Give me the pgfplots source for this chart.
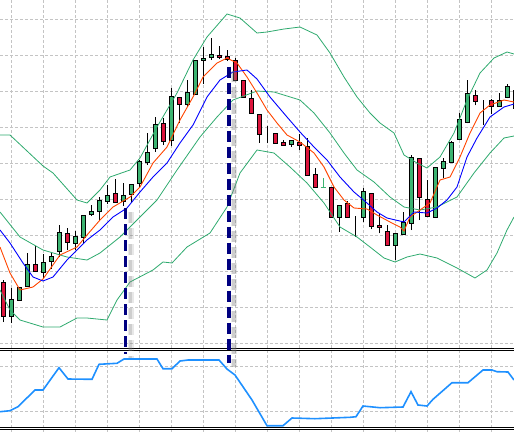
\documentclass[border=0pt]{standalone}
\usepackage{pgfplots}
\pgfplotsset{compat=1.18}
\usepackage{pgfplotstable}
\definecolor{cgreen}{RGB}{60,179,113}
\definecolor{cred}{RGB}{220,20,60}
\definecolor{corange}{RGB}{255,69,0}
\definecolor{cblue}{RGB}{0,0,255}
\definecolor{cind}{RGB}{30,144,255}
\definecolor{cnavy}{RGB}{0,0,128}
\definecolor{cgrid}{RGB}{196,196,196}
\definecolor{cband}{RGB}{46,170,110}

% candles in screen units: x, open, high, low, close
\pgfplotstableread{
x o h l c
3 282 280 322 316
11 316.7 288 323 299.3
19 300 287 300 287.3
27 286 253 286 264
35 264.3 246 272 271.7
43 272.3 254 278 262.3
51 261 253 269 256
59 251 225 257 232.3
67 233.3 228 250 242.3
75 243.3 231 250 236.3
83 237.3 215 244 215.3
91 214.3 205 216 211
99 211.7 197 221 200.3
107 201.7 185 204 195.3
115 193.3 179 202.3 202.3
123 201.3 183 206 195.3
131 194.3 184 203 184.3
139 183.3 160 187 161.3
147 162.3 133 165 152.7
155 148.3 117 151.7 124
163 123.3 118 145 141.7
171 140 88 145.7 96.7
179 97.3 97 123 104.3
187 104.3 80 107 92.3
195 94.3 60 94.3 60.3
203 60.3 47 84 58.3
211 57.3 38 60 54.3
219 55.3 46 59 57.3
227 56 50 61 59
235 60 58 80.7 80.7
243 80 80 97.3 97.3
251 98.7 90 113.3 113.3
259 114.3 114 142.7 134.3
267 133.3 126 143.3 133.3
275 133.3 133 143.3 143.3
283 142.3 140 145.7 145.7
291 144.3 140 146.7 140.3
299 142.3 134 150 145.7
307 146.5 138.3 175 175
315 174.3 168.3 188 187.7
323 187.5 178 187.5 187.5
331 187.3 187.3 217.3 217.3
339 217.3 205.7 231.7 205.7
347 203.3 201 217.3 217.3
355 216.7 216 236.7 216.7
363 217.3 188.3 221.7 191.7
371 193.3 193.3 229.3 226.7
379 225.3 213.3 233.3 227.3
387 231 225 245.3 245.3
395 245.3 233.7 260 233.7
403 234.3 211.7 234.3 222.7
411 223.3 155 230 157
419 158.3 158 220 197.5
427 199.3 180 216 216
435 217.3 167 218 167.3
443 168.3 158.3 178.3 161.7
451 162.7 140.7 163 142.7
459 139.3 113.3 140 119.3
467 122 80 123.3 93.3
475 95.3 90 105.3 101.3
483 100.7 100 125 100.7
491 100.7 99 114 106
499 106 92.7 106 100.7
507 97.3 84 98 86.7
515 90 87.7 123.3 108
}\candles

\pgfplotstableread{
x y
0 135
10 135
43 166
53 173
77 200
87 203
100 190
110 177
130 170
140 158
157 127
177 93
193 60
207 37
227 14
240 18
257 33
267 32
284 29
300 27
317 35
330 53
344 77
357 97
370 113
380 123
394 133
404 155
417 163
427 168
440 157
454 133
467 100
480 73
494 58
507 52
514 54
}\bandup

\pgfplotstableread{
x y
0 212
20 237
43 250
67 257
87 260
100 253
120 237
140 217
157 200
177 170
200 137
217 117
233 100
257 91
274 92
300 100
314 113
330 133
344 153
357 170
374 182
390 197
404 207
420 210
437 207
457 197
474 173
490 153
504 138
514 136
}\bandmid

\pgfplotstableread{
x y
0 290
10 310
20 320
43 327
60 327
77 318
87 318
107 320
117 300
130 282
153 270
163 262
172 263
187 247
210 233
227 207
240 173
257 150
274 153
290 167
307 183
324 203
340 227
357 237
370 247
384 258
395 262
407 257
420 254
437 258
457 268
475 278
487 270
497 253
507 230
514 217
}\bandlow

\pgfplotstableread{
x y
0 247
10 273
20 290
33 287
43 279
60 255
77 247
87 235
100 220
113 207
130 197
140 187
153 163
167 147
180 120
193 97
203 77
217 63
227 58
237 63
247 77
257 93
267 110
277 123
287 135
300 142
314 153
324 167
334 187
344 200
354 208
367 209
377 215
390 222
400 227
404 231
410 217
420 210
430 203
440 180
450 177
460 157
470 133
480 113
490 105
504 100
514 102
}\fastma

\pgfplotstableread{
x y
0 230
10 243
23 263
33 277
43 281
53 277
67 260
87 240
100 230
113 217
127 208
140 192
153 177
167 163
180 143
193 125
207 97
220 80
233 72
247 70
257 79
270 97
287 117
300 132
314 147
327 160
340 177
354 192
367 203
377 212
387 218
404 222
414 212
427 213
437 208
447 200
457 187
467 157
477 138
490 117
504 107
514 104
}\slowma

\pgfplotstableread{
x y
0 411.7
10 410.7
18 406.7
35 390
43 390
59 367.7
68 379
92 379.3
99 364.3
117 363.3
124 359
157 359
163 368.7
172 368.7
180 361
188 360
219 360
227 369
235 375
252 400
267 425.7
283 425.7
292 418
315 418.7
350 417.3
356 416.7
363 406
380 407.7
403 407
411 391.7
418 405
427 406
433 399.3
452 382.7
468 382.7
483 370
492 370
497 371.7
508 372
514 380
}\indic

\pgfplotsset{chartbase/.style={
  width=514pt, height=432pt, scale only axis,
  xmin=0, xmax=514, ymin=0, ymax=432, y dir=reverse,
  axis line style={draw=none}, tick style={draw=none},
  xticklabels={}, yticklabels={},
  clip=true, at={(0,0)}, anchor=south west,
}}

\begin{document}
\begin{tikzpicture}
% layer 1: grid and wicks
\begin{axis}[chartbase,
  xtick={11.5,43.5,75.5,107.5,139.5,171.5,203.5,235.5,267.5,299.5,331.5,363.5,395.5,427.5,459.5,491.5},
  ytick={19.3,55.3,91.3,127.3,163.3,199.3,235.3,271.3,307.3,343.3,366,411},
  grid=major, grid style={cgrid, line width=0.8pt, dash pattern=on 2.5pt off 2.5pt}]
\addplot[draw=none, mark=none, forget plot,
  error bars/.cd, y dir=both, y explicit, error mark=none,
  error bar style={draw=black, line width=1pt}]
  table[x=x, y=l, y error plus expr=0, y error minus expr={\thisrow{l}-\thisrow{h}}] {\candles};
\end{axis}
% layer 2: candle bodies
\begin{axis}[chartbase, xtick=\empty, ytick=\empty,
  ybar stacked, bar width=4pt]
\addplot[draw=none, fill=none] table[x=x, y expr={min(\thisrow{o},\thisrow{c})}] {\candles};
\addplot[draw=black, fill=cgreen, line width=1pt] table[x=x, y expr={max(\thisrow{o}-\thisrow{c},0)}] {\candles};
\addplot[draw=black, fill=cred, line width=1pt] table[x=x, y expr={max(\thisrow{c}-\thisrow{o},0)}] {\candles};
\end{axis}
% layer 3: indicators
\begin{axis}[chartbase, xtick=\empty, ytick=\empty]
\addplot[cgreen, line width=1.2pt] coordinates {(320.5,187.5) (325.5,187.5)};
\addplot[cgreen, line width=1pt] coordinates {(323,178) (323,187.5)};
\addplot[cband, line width=0.8pt] table {\bandup};
\addplot[cband, line width=0.8pt] table {\bandmid};
\addplot[cband, line width=0.8pt] table {\bandlow};
\addplot[corange, line width=0.9pt] table {\fastma};
\addplot[cblue, line width=0.9pt] table {\slowma};
\addplot[cind, line width=1.6pt] table {\indic};
% separators
\addplot[white, line width=2pt] coordinates {(0,349.3) (514,349.3)};
\addplot[black, line width=1pt] coordinates {(0,348.3) (514,348.3)};
\addplot[black, line width=1pt] coordinates {(0,350.3) (514,350.3)};
\addplot[white, line width=2pt] coordinates {(0,428.3) (514,428.3)};
\addplot[black, line width=1pt] coordinates {(0,427.3) (514,427.3)};
\addplot[black, line width=1pt] coordinates {(0,429.3) (514,429.3)};
% shadows of dashed lines
\addplot[gray, opacity=0.18, line width=6pt, dash pattern=on 11pt off 5pt] coordinates {(130.5,212) (130.5,358)};
\addplot[gray, opacity=0.25, line width=3.5pt, dash pattern=on 11pt off 5pt] coordinates {(130.5,212) (130.5,358)};
\addplot[gray, opacity=0.18, line width=6pt, dash pattern=on 11pt off 5pt] coordinates {(234,70.7) (234,367.3)};
\addplot[gray, opacity=0.25, line width=3.5pt, dash pattern=on 11pt off 5pt] coordinates {(234,70.7) (234,367.3)};
% dashed lines
\addplot[cnavy, line width=3.5pt, dash pattern=on 11pt off 5pt] coordinates {(125.5,208) (125.5,354)};
\addplot[cnavy, line width=3.5pt, dash pattern=on 11pt off 5pt] coordinates {(229,66.7) (229,363.3)};
\end{axis}
\pgfresetboundingbox
\path[use as bounding box] (0,0) rectangle (514pt,432pt);
\end{tikzpicture}
\end{document}
